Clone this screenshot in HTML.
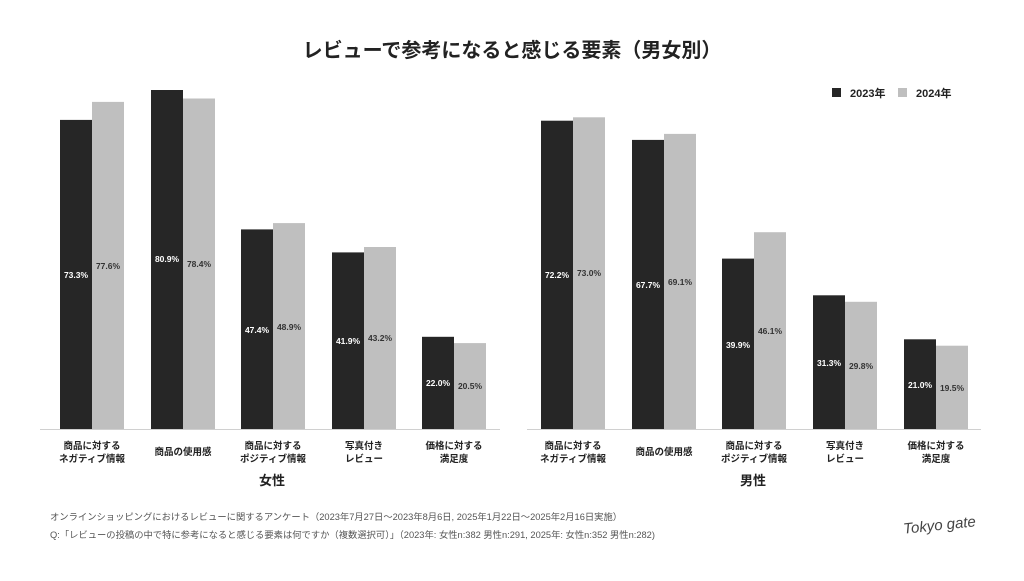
<!DOCTYPE html>
<html><head><meta charset="utf-8"><style>
body{margin:0;background:#fff;}
svg text{font-family:"Liberation Sans","Noto Sans CJK JP",sans-serif;}
</style></head><body>
<svg width="1024" height="576" viewBox="0 0 1024 576" xmlns="http://www.w3.org/2000/svg">
<rect width="1024" height="576" fill="#fff"/>
<text x="512" y="57" text-anchor="middle" font-size="20" font-weight="bold" fill="#222">レビューで参考になると感じる要素（男女別）</text>
<rect x="832" y="88" width="9" height="9" fill="#262626"/>
<text x="850" y="97" font-size="11" font-weight="bold" fill="#222">2023年</text>
<rect x="898" y="88" width="9" height="9" fill="#bfbfbf"/>
<text x="916" y="97" font-size="11" font-weight="bold" fill="#222">2024年</text>
<g>
<rect x="60" y="119.9" width="32" height="309.1" fill="#262626"/><rect x="92" y="101.9" width="32" height="327.1" fill="#bfbfbf"/>
<rect x="151" y="90" width="32" height="339" fill="#262626"/><rect x="183" y="98.5" width="32" height="330.5" fill="#bfbfbf"/>
<rect x="241" y="229.4" width="32" height="199.6" fill="#262626"/><rect x="273" y="223.1" width="32" height="205.9" fill="#bfbfbf"/>
<rect x="332" y="252.4" width="32" height="176.6" fill="#262626"/><rect x="364" y="247" width="32" height="182" fill="#bfbfbf"/>
<rect x="422" y="336.8" width="32" height="92.2" fill="#262626"/><rect x="454" y="343.1" width="32" height="85.9" fill="#bfbfbf"/>
<line x1="40" y1="429.5" x2="500" y2="429.5" stroke="#d0d0d0" stroke-width="1"/>
<g font-size="8.5" font-weight="bold" text-anchor="middle">
<text x="76" y="278" fill="#fff">73.3%</text><text x="108" y="269" fill="#333">77.6%</text>
<text x="167" y="262" fill="#fff">80.9%</text><text x="199" y="267" fill="#333">78.4%</text>
<text x="257" y="333" fill="#fff">47.4%</text><text x="289" y="330" fill="#333">48.9%</text>
<text x="348" y="344" fill="#fff">41.9%</text><text x="380" y="341" fill="#333">43.2%</text>
<text x="438" y="386" fill="#fff">22.0%</text><text x="470" y="389" fill="#333">20.5%</text>
</g>
<g font-size="9.5" font-weight="bold" text-anchor="middle" fill="#222">
<text x="92" y="449">商品に対する</text><text x="92" y="462">ネガティブ情報</text>
<text x="183" y="455">商品の使用感</text>
<text x="273" y="449">商品に対する</text><text x="273" y="462">ポジティブ情報</text>
<text x="364" y="449">写真付き</text><text x="364" y="462">レビュー</text>
<text x="454" y="449">価格に対する</text><text x="454" y="462">満足度</text>
</g>
<text x="272" y="485" text-anchor="middle" font-size="13" font-weight="bold" fill="#222">女性</text>
</g>
<g>
<rect x="541" y="120.7" width="32" height="308.3" fill="#262626"/><rect x="573" y="117.3" width="32" height="311.7" fill="#bfbfbf"/>
<rect x="632" y="139.9" width="32" height="289.1" fill="#262626"/><rect x="664" y="133.9" width="32" height="295.1" fill="#bfbfbf"/>
<rect x="722" y="258.6" width="32" height="170.4" fill="#262626"/><rect x="754" y="232.2" width="32" height="196.8" fill="#bfbfbf"/>
<rect x="813" y="295.3" width="32" height="133.7" fill="#262626"/><rect x="845" y="301.8" width="32" height="127.2" fill="#bfbfbf"/>
<rect x="904" y="339.3" width="32" height="89.7" fill="#262626"/><rect x="936" y="345.7" width="32" height="83.3" fill="#bfbfbf"/>
<line x1="527" y1="429.5" x2="981" y2="429.5" stroke="#d0d0d0" stroke-width="1"/>
<g font-size="8.5" font-weight="bold" text-anchor="middle">
<text x="557" y="278" fill="#fff">72.2%</text><text x="589" y="276" fill="#333">73.0%</text>
<text x="648" y="288" fill="#fff">67.7%</text><text x="680" y="285" fill="#333">69.1%</text>
<text x="738" y="348" fill="#fff">39.9%</text><text x="770" y="334" fill="#333">46.1%</text>
<text x="829" y="366" fill="#fff">31.3%</text><text x="861" y="369" fill="#333">29.8%</text>
<text x="920" y="388" fill="#fff">21.0%</text><text x="952" y="391" fill="#333">19.5%</text>
</g>
<g font-size="9.5" font-weight="bold" text-anchor="middle" fill="#222">
<text x="573" y="449">商品に対する</text><text x="573" y="462">ネガティブ情報</text>
<text x="664" y="455">商品の使用感</text>
<text x="754" y="449">商品に対する</text><text x="754" y="462">ポジティブ情報</text>
<text x="845" y="449">写真付き</text><text x="845" y="462">レビュー</text>
<text x="936" y="449">価格に対する</text><text x="936" y="462">満足度</text>
</g>
<text x="753" y="485" text-anchor="middle" font-size="13" font-weight="bold" fill="#222">男性</text>
</g>
<text x="50" y="520" font-size="9.3" fill="#555">オンラインショッピングにおけるレビューに関するアンケート（2023年7月27日～2023年8月6日, 2025年1月22日～2025年2月16日実施）</text>
<text x="50" y="538" font-size="9.3" fill="#555">Q:「レビューの投稿の中で特に参考になると感じる要素は何ですか（複数選択可）」（2023年: 女性n:382 男性n:291, 2025年: 女性n:352 男性n:282)</text>
<text x="940" y="530" text-anchor="middle" font-size="15" font-style="italic" font-family="'Liberation Serif',serif" fill="#444" transform="rotate(-6 940 530)">Tokyo gate</text>
</svg>
</body></html>
